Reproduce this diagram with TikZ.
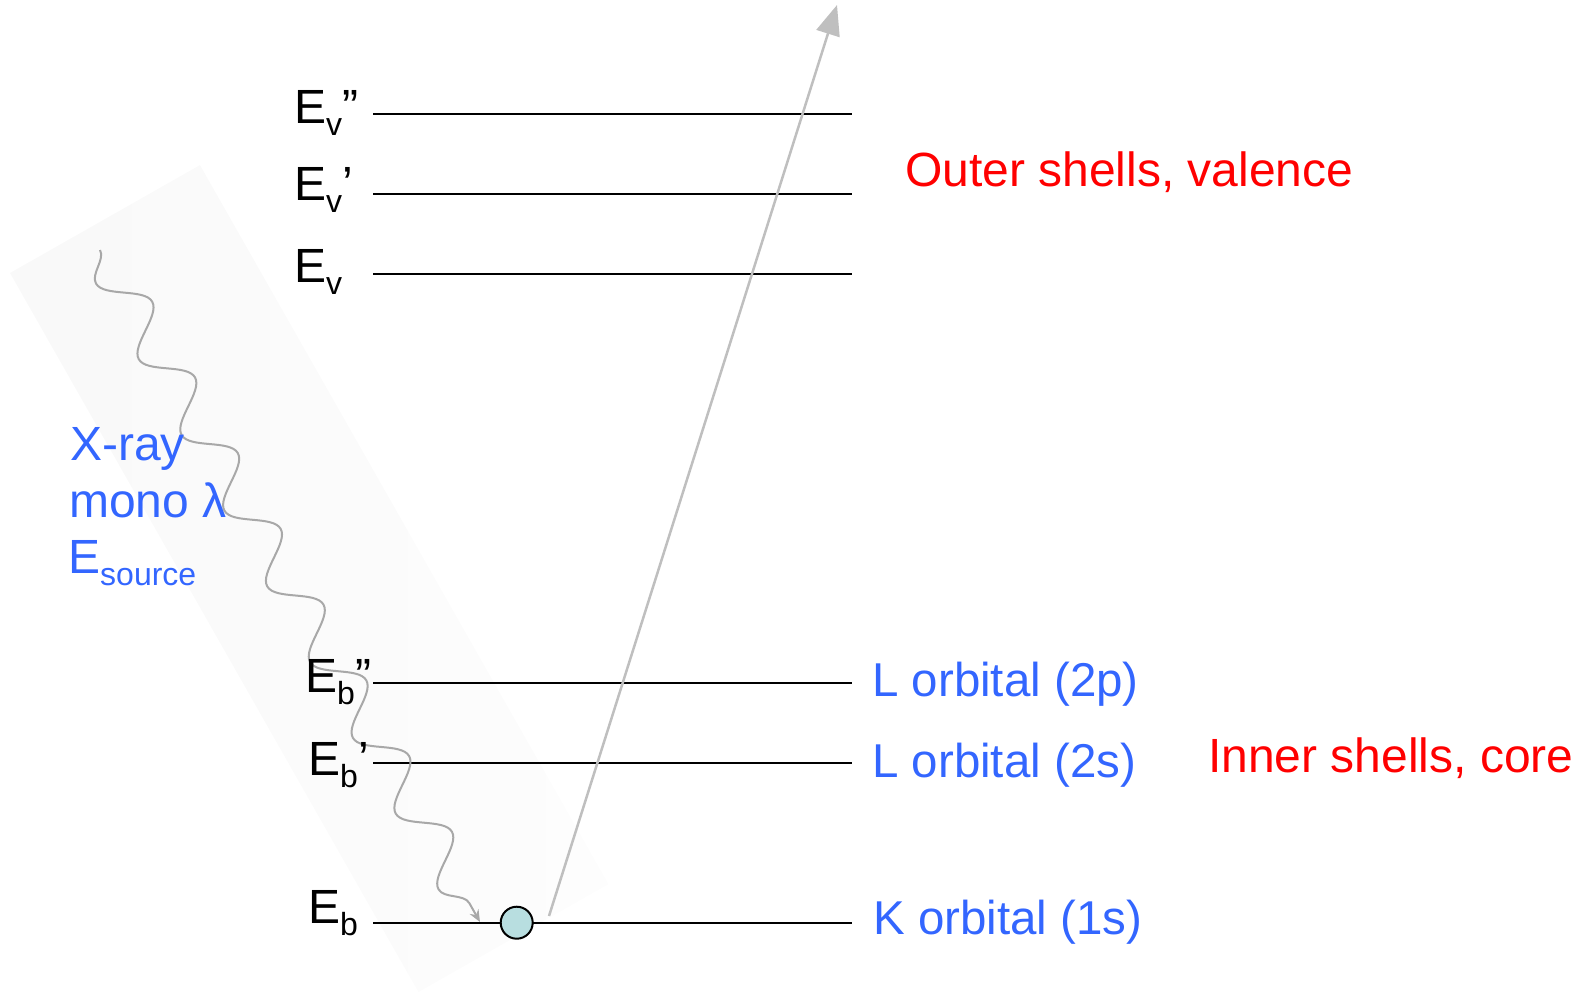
\documentclass[tikz,border=0pt]{standalone}
\usepackage{fontspec}
\setmainfont{Liberation Sans}
\usetikzlibrary{arrows.meta,decorations.pathmorphing}
\definecolor{orbblue}{HTML}{3366FF}
\definecolor{shellred}{HTML}{FF0000}
\definecolor{electron}{HTML}{B8DEE0}
\definecolor{beamgray}{HTML}{BFBFBF}
\definecolor{wavegray}{HTML}{A8A8A8}
% lowered subscript used in the energy labels
\newcommand{\lsub}[1]{\raisebox{-12pt}{\fontsize{32}{36}\selectfont #1}}

\begin{document}
\begin{tikzpicture}[x=1pt,y=-1pt,
  shellline/.style={line width=2pt, draw=black},
  elabel/.style={anchor=base west, inner sep=0pt, font=\fontsize{48}{58}\selectfont},
  orbital/.style={anchor=base west, inner sep=0pt, text=orbblue, font=\fontsize{47.5}{57}\selectfont},
  shelltext/.style={anchor=base west, inner sep=0pt, text=shellred, font=\fontsize{48}{58}\selectfont},
  xraytext/.style={anchor=base west, inner sep=0pt, text=orbblue, font=\fontsize{48}{58}\selectfont},
  photon/.style={draw=wavegray, line width=2pt,
    decorate, decoration={snake, segment length=87pt, amplitude=-20pt, post length=16pt},
    -{Stealth[length=12pt,width=10pt]}},
  beam/.style={draw=beamgray, line width=2.5pt, -{Triangle[length=30pt,width=24pt]}},
  electronball/.style={circle, draw=black, line width=2pt, fill=electron, minimum size=32pt, inner sep=0pt},
]
\useasboundingbox (0,0) rectangle (1585,991);

% faint band behind the incoming photon
\begin{scope}[shift={(10,273)}, rotate=29.6]
  \shade[left color=black!2.5, right color=black!0.8] (0,0) rectangle (218.5,827);
\end{scope}

% energy levels
\foreach \n/\y in {ev2/114, ev1/194, ev0/274, eb2/683, eb1/763, eb0/922.7} {
  \coordinate (\n L) at (373,\y);
  \coordinate (\n R) at (852,\y);
  \draw[shellline] (\n L) -- (\n R);
}

% incoming X-ray photon
\coordinate (wStart) at (100,250);
\coordinate (wEnd) at (480,922);
\draw[photon] (wStart) -- (wEnd);

% core electron and its ejection path
\node[electronball] (e) at (516.7,922.7) {};
\coordinate (ejStart) at (549,916);
\coordinate (ejTip) at (837,5);
\draw[beam] (ejStart) -- (ejTip);

% level labels
\node[elabel] (Ev2) at (294,123) {E\lsub{v}”};
\node[elabel] (Ev1) at (294,200) {E\lsub{v}’};
\node[elabel] (Ev0) at (294,282) {E\lsub{v}};
\node[elabel] (Eb2) at (305,692) {E\lsub{b}”};
\node[elabel] (Eb1) at (308,775) {E\lsub{b}’};
\node[elabel] (Eb0) at (308,923) {E\lsub{b}};

% orbital names
\node[orbital] (L2p) at (872,696) {L orbital (2p)};
\node[orbital] (L2s) at (872,777) {L orbital (2s)};
\node[orbital] (K1s) at (873,934) {K orbital (1s)};

% shell groups
\node[shelltext] (outer) at (905,186) {Outer shells, valence};
\node[shelltext] (inner) at (1208,772) {Inner shells, core};

% source description
\node[xraytext] (xr1) at (70,460) {X-ray};
\node[xraytext] (xr2) at (69,517) {mono λ};
\node[xraytext] (xr3) at (68,573) {E\lsub{source}};
\end{tikzpicture}
\end{document}
